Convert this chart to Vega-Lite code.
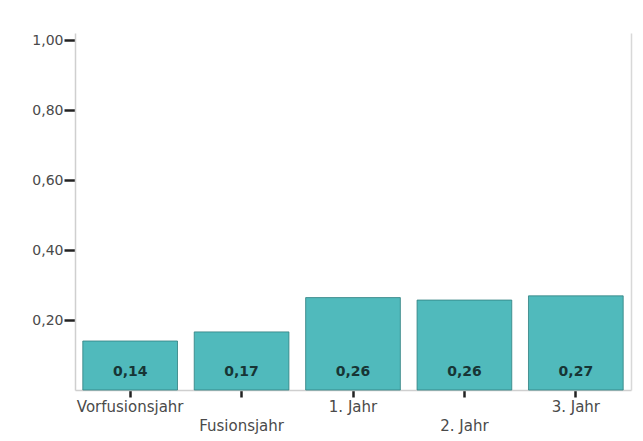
{
  "$schema": "https://vega.github.io/schema/vega-lite/v6.json",
  "width": 556,
  "height": 357,
  "autosize": {"type": "none"},
  "padding": {"left": 75, "top": 33, "right": 12, "bottom": 51},
  "background": "white",
  "data": {
    "values": [
      {"Jahr": "Vorfusionsjahr", "Wert": 0.14},
      {"Jahr": "Fusionsjahr", "Wert": 0.166},
      {"Jahr": "1. Jahr", "Wert": 0.264},
      {"Jahr": "2. Jahr", "Wert": 0.257},
      {"Jahr": "3. Jahr", "Wert": 0.269}
    ]
  },
  "encoding": {
    "x": {
      "field": "Jahr",
      "type": "nominal",
      "sort": null,
      "scale": {"paddingInner": 0.15, "paddingOuter": 0.07},
      "axis": {
        "title": null,
        "labelAngle": 0,
        "labelFont": "DejaVu Sans",
        "labelFontSize": 15,
        "labelColor": "#4a4a4a",
        "labelLineHeight": 19,
        "labelPadding": 2,
        "labelExpr": "datum.value == 'Fusionsjahr' || datum.value == '2. Jahr' ? ['', datum.label] : datum.label",
        "tickSize": 7,
        "tickWidth": 2.5,
        "tickColor": "#222222",
        "domainColor": "#cfcfcf",
        "domainWidth": 1.5
      }
    }
  },
  "layer": [
    {
      "mark": {"type": "bar", "color": "#50babc", "stroke": "#2f7f80", "strokeWidth": 1, "strokeOpacity": 0.8},
      "encoding": {
        "y": {
          "field": "Wert",
          "type": "quantitative",
          "scale": {"domain": [0, 1.02], "nice": false},
          "axis": {
            "title": null,
            "values": [0.2, 0.4, 0.6, 0.8, 1.0],
            "format": ".2f",
            "grid": false,
            "labelFont": "DejaVu Sans",
            "labelFontSize": 14,
            "labelColor": "#4a4a4a",
            "labelPadding": 1,
            "tickSize": 11,
            "tickWidth": 2.5,
            "tickColor": "#222222",
            "domainColor": "#cfcfcf",
            "domainWidth": 1.5
          }
        }
      }
    },
    {
      "mark": {"type": "text", "font": "DejaVu Sans", "fontSize": 14, "fontWeight": "bold", "color": "#173535", "baseline": "middle", "dy": -18},
      "encoding": {
        "y": {
          "datum": 0,
          "type": "quantitative",
          "axis": {"orient": "right", "labels": false, "ticks": false, "title": null, "grid": false, "domainColor": "#d8d8d8", "domainWidth": 1.5}
        },
        "text": {"field": "Wert", "type": "quantitative", "format": ".2f"}
      }
    }
  ],
  "resolve": {"axis": {"y": "independent"}},
  "config": {
    "locale": {"number": {"decimal": ",", "thousands": ".", "grouping": [3], "currency": ["", " €"]}},
    "view": {"stroke": null}
  }
}
